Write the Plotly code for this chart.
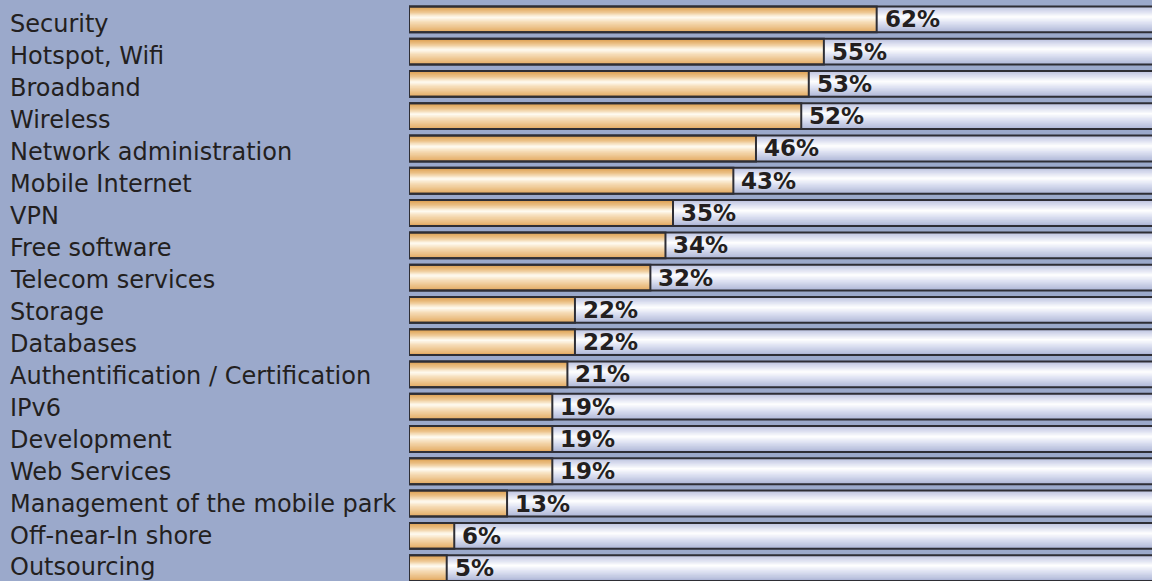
import plotly.graph_objects as go

categories = ["Security", "Hotspot, Wifi", "Broadband", "Wireless", "Network administration",
              "Mobile Internet", "VPN", "Free software", "Telecom services", "Storage",
              "Databases", "Authentification / Certification", "IPv6", "Development",
              "Web Services", "Management of the mobile park", "Off-near-In shore", "Outsourcing"]
values = [62, 55, 53, 52, 46, 43, 35, 34, 32, 22, 22, 21, 19, 19, 19, 13, 6, 5]
value_labels = [f"{v}%" for v in values]
track_max = 100

BG = "#9ba9cb"
BORDER = "#2e2e35"
TEXT = "#231f20"
BAR_W = 0.8
N_STRIPS = 24

def lerp(c1, c2, t):
    return tuple(c1[i] + (c2[i] - c1[i]) * t for i in range(3))

def grad(stops, t):
    for (t0, c0), (t1, c1) in zip(stops, stops[1:]):
        if t0 <= t <= t1:
            return lerp(c0, c1, (t - t0) / (t1 - t0) if t1 > t0 else 0)
    return stops[-1][1]

def rgb(c):
    return "rgb(%d,%d,%d)" % tuple(round(x) for x in c)

orange_stops = [(0.0, (222, 160, 82)), (0.2, (236, 196, 140)), (0.42, (255, 252, 244)),
                (0.6, (246, 222, 186)), (1.0, (228, 172, 100))]
track_stops = [(0.0, (190, 196, 224)), (0.2, (222, 225, 241)), (0.4, (255, 255, 255)),
               (0.62, (224, 228, 243)), (1.0, (176, 184, 216))]

idx = list(range(len(categories)))
fig = go.Figure()

def add_gradient(xvals, stops):
    for k in range(N_STRIPS):
        t = k / (N_STRIPS - 1)
        off = -BAR_W / 2 + BAR_W * k / N_STRIPS
        fig.add_trace(go.Bar(
            x=xvals, y=idx, orientation="h", base=0,
            offset=off, width=BAR_W / 2 - off,
            marker=dict(color=rgb(grad(stops, t)), line=dict(width=0)),
            hoverinfo="skip", showlegend=False))

add_gradient([track_max] * len(idx), track_stops)
add_gradient(values, orange_stops)

for xv in ([track_max] * len(idx), values):
    fig.add_trace(go.Bar(
        x=xv, y=idx, orientation="h", base=0,
        offset=-BAR_W / 2, width=BAR_W,
        marker=dict(color="rgba(0,0,0,0)", line=dict(color=BORDER, width=2)),
        hoverinfo="skip", showlegend=False))

annotations = []
for i, (c, v, lab) in enumerate(zip(categories, values, value_labels)):
    annotations.append(dict(x=0, xref="paper", xshift=-401,
                            y=i + (5.0 - 0.33 * i) / 32.3, yref="y",
                            text=c, showarrow=False, xanchor="left", yanchor="middle",
                            font=dict(family="DejaVu Sans", size=24, color=TEXT)))
    annotations.append(dict(x=v, xref="x", xshift=6, y=i, yref="y",
                            text=f"<b>{lab}</b>", showarrow=False, xanchor="left", yanchor="middle",
                            font=dict(family="DejaVu Sans", size=23, color=TEXT)))

fig.update_layout(
    width=1152, height=581,
    margin=dict(l=409, r=0, t=0, b=0),
    paper_bgcolor=BG, plot_bgcolor=BG,
    barmode="overlay",
    xaxis=dict(range=[0, 98.5], visible=False, fixedrange=True),
    yaxis=dict(range=[17.4, -0.6], visible=False, fixedrange=True),
    annotations=annotations,
    showlegend=False,
)

fig.write_html("out.html", config={"displayModeBar": False},
               post_script="document.body.style.margin='0';document.body.style.padding='0';"
                           "document.body.style.overflow='hidden';")
